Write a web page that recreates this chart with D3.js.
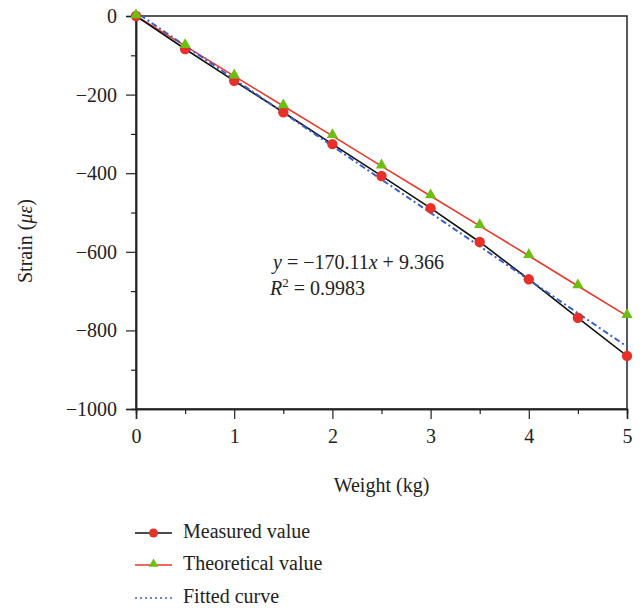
<!DOCTYPE html>
<html>
<head>
<meta charset="utf-8">
<script src="https://cdn.jsdelivr.net/npm/d3@7"></script>
<style>
  body { margin: 0; background: #fff; }
  svg text { font-family: "Liberation Serif", "DejaVu Serif", serif; fill: #222; }
</style>
</head>
<body>
<div id="chart"></div>
<script>
// Data
var weights = [0, 0.5, 1, 1.5, 2, 2.5, 3, 3.5, 4, 4.5, 5];
var measured = [0, -84, -165, -245, -326, -407, -489, -575, -670, -768, -865];
var theoretical = [0, -76, -153, -229, -305, -382, -458, -534, -610, -687, -763];
var fittedX = [0, 5];
var fittedY = [9.37, -841.2];
var xTicks = [0, 1, 2, 3, 4, 5];
var yTicks = [0, -200, -400, -600, -800, -1000];

var width = 644, height = 610;
var margin = { top: 16, right: 17, bottom: 201, left: 136 };
var innerW = width - margin.left - margin.right,
    innerH = height - margin.top - margin.bottom;
var fontSize = "20px";

var svg = d3.select("#chart").append("svg")
    .attr("width", width)
    .attr("height", height);

var g = svg.append("g")
    .attr("transform", "translate(" + margin.left + "," + margin.top + ")");

var x = d3.scaleLinear().domain([0, 5]).range([0, innerW]);
var y = d3.scaleLinear().domain([-1000, 0]).range([innerH, 0]);

// clip so the fit line does not poke over the frame
g.append("clipPath").attr("id", "clip")
    .append("rect").attr("width", innerW).attr("height", innerH);

// frame
g.append("rect")
    .attr("width", innerW).attr("height", innerH)
    .attr("fill", "none").attr("stroke", "#222").attr("stroke-width", 1.5);

// axes: major ticks with labels, minor ticks without
g.append("g").attr("transform", "translate(0," + innerH + ")")
    .call(d3.axisBottom(x).tickValues(xTicks).tickSize(10).tickPadding(10)
        .tickFormat(d3.format("d")));
g.append("g").attr("transform", "translate(0," + innerH + ")")
    .call(d3.axisBottom(x).tickValues(d3.range(0.5, 5, 1)).tickSize(5).tickFormat(""));

g.append("g")
    .call(d3.axisLeft(y).tickValues(yTicks).tickSize(10).tickPadding(9)
        .tickFormat(function (d) { return d < 0 ? "\u2212" + Math.abs(d) : d; }));
g.append("g")
    .call(d3.axisLeft(y).tickValues(d3.range(-900, 0, 200)).tickSize(5).tickFormat(""));

g.selectAll(".domain").attr("stroke", "#222").attr("stroke-width", 1.5);
g.selectAll(".tick line").attr("stroke", "#222").attr("stroke-width", 1.2);
g.selectAll(".tick text").style("font-size", fontSize).attr("fill", "#222");

// axis titles
svg.append("text")
    .attr("x", margin.left + innerW / 2).attr("y", 492)
    .attr("text-anchor", "middle").style("font-size", fontSize)
    .text("Weight (kg)");

var ylab = svg.append("text")
    .attr("transform", "translate(32,241) rotate(-90)")
    .attr("text-anchor", "middle").style("font-size", fontSize);
ylab.append("tspan").text("Strain (");
ylab.append("tspan").style("font-style", "italic").text("\u03bc\u03b5");
ylab.append("tspan").text(")");

var plot = g.append("g").attr("clip-path", "url(#clip)");

var line = d3.line()
    .x(function (d) { return x(d[0]); })
    .y(function (d) { return y(d[1]); });

var measPts = weights.map(function (w, i) { return [w, measured[i]]; });
var theoPts = weights.map(function (w, i) { return [w, theoretical[i]]; });
var fitPts = fittedX.map(function (w, i) { return [w, fittedY[i]]; });

plot.append("path").datum(theoPts)
    .attr("d", line).attr("fill", "none")
    .attr("stroke", "#e8392b").attr("stroke-width", 1.6);

plot.append("path").datum(measPts)
    .attr("d", line).attr("fill", "none")
    .attr("stroke", "#111").attr("stroke-width", 1.6);

plot.append("path").datum(fitPts)
    .attr("d", line).attr("fill", "none")
    .attr("stroke", "#3a5fc8").attr("stroke-width", 2)
    .attr("stroke-dasharray", "2,3,6,3");

var tri = d3.symbol().type(d3.symbolTriangle).size(55);

g.selectAll("circle.meas").data(measPts).enter().append("circle")
    .attr("class", "meas")
    .attr("cx", function (d) { return x(d[0]); })
    .attr("cy", function (d) { return y(d[1]); })
    .attr("r", 5.2).attr("fill", "#e8302a");

g.selectAll("path.theo").data(theoPts).enter().append("path")
    .attr("class", "theo")
    .attr("d", tri)
    .attr("transform", function (d) { return "translate(" + x(d[0]) + "," + (y(d[1]) - 1) + ")"; })
    .attr("fill", "#6abf10");

// regression annotation
var eq = svg.append("text").attr("x", 273).attr("y", 269).style("font-size", fontSize);
eq.append("tspan").style("font-style", "italic").text("y");
eq.append("tspan").text(" = \u2212170.11");
eq.append("tspan").style("font-style", "italic").text("x");
eq.append("tspan").text(" + 9.366");

var r2 = svg.append("text").attr("x", 270).attr("y", 295).style("font-size", fontSize);
r2.append("tspan").style("font-style", "italic").text("R");
r2.append("tspan").attr("dy", -8).style("font-size", "13px").text("2");
r2.append("tspan").attr("dy", 8).text(" = 0.9983");

// legend
var legend = svg.append("g").attr("transform", "translate(135,0)");
var items = [
    { label: "Measured value", y: 533, kind: "meas" },
    { label: "Theoretical value", y: 565, kind: "theo" },
    { label: "Fitted curve", y: 598, kind: "fit" }
];
items.forEach(function (it) {
    var row = legend.append("g").attr("transform", "translate(0," + it.y + ")");
    if (it.kind === "meas") {
        row.append("line").attr("x1", 0).attr("x2", 37).attr("stroke", "#111").attr("stroke-width", 1.6);
        row.append("circle").attr("cx", 18.5).attr("r", 4.5).attr("fill", "#e8302a");
    } else if (it.kind === "theo") {
        row.append("line").attr("x1", 0).attr("x2", 37).attr("stroke", "#e8392b").attr("stroke-width", 1.6);
        row.append("path").attr("d", d3.symbol().type(d3.symbolTriangle).size(40))
            .attr("transform", "translate(18.5,-1)").attr("fill", "#6abf10");
    } else {
        row.append("line").attr("x1", 0).attr("x2", 37).attr("stroke", "#3a5fc8")
            .attr("stroke-width", 1.4).attr("stroke-dasharray", "2,3");
    }
    row.append("text").attr("x", 48).attr("y", 5).style("font-size", fontSize).text(it.label);
});
</script>
</body>
</html>
